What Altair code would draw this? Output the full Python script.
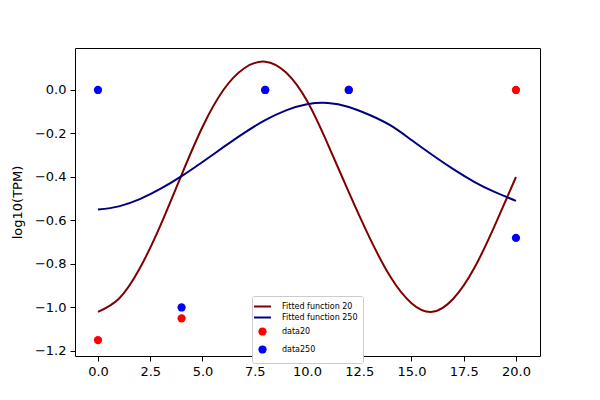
import altair as alt
import pandas as pd

# fitted curves at every integer x
FIT_X = list(range(21))
FIT20_Y = [-1.02, -0.96, -0.82, -0.62, -0.39, -0.17, 0.0, 0.10, 0.13, 0.08, -0.05,
           -0.25, -0.47, -0.68, -0.86, -0.98, -1.02, -0.96, -0.82, -0.62, -0.40]
FIT250_Y = [-0.55, -0.535, -0.502, -0.454, -0.396, -0.331, -0.263, -0.197, -0.139, -0.094, -0.066,
            -0.060, -0.078, -0.115, -0.163, -0.230, -0.299, -0.364, -0.422, -0.470, -0.510]

# measured points
DATA_X = [0, 4, 8, 12, 20]
DATA20_Y = [-1.15, -1.05, 0.0, 0.0, 0.0]
DATA250_Y = [0.0, -1.0, 0.0, 0.0, -0.68]

SERIES = ["Fitted function 20", "Fitted function 250", "data20", "data250"]
COLORS = ["#800000", "#000080", "#ff0000", "#0000ff"]
STROKES = ["#800000", "#000080", "transparent", "transparent"]
LINE_PATH = "M-2.05,0L2.05,0"
SHAPES = [LINE_PATH, LINE_PATH, "circle", "circle"]

X_TICKS = [0, 2.5, 5, 7.5, 10, 12.5, 15, 17.5, 20]
Y_TICKS = [-1.2, -1.0, -0.8, -0.6, -0.4, -0.2, 0.0]

FONT = "DejaVu Sans"

fits = pd.concat([
    pd.DataFrame({"x": FIT_X, "y": FIT20_Y, "series": SERIES[0]}),
    pd.DataFrame({"x": FIT_X, "y": FIT250_Y, "series": SERIES[1]}),
])
points = pd.concat([
    pd.DataFrame({"x": DATA_X, "y": DATA20_Y, "series": SERIES[2]}),
    pd.DataFrame({"x": DATA_X, "y": DATA250_Y, "series": SERIES[3]}),
])

x_enc = alt.X(
    "x:Q",
    title=None,
    scale=alt.Scale(domain=[-1.1, 21.15], nice=False, zero=False),
    axis=alt.Axis(values=X_TICKS, format=".1f"),
)
y_enc = alt.Y(
    "y:Q",
    title="log10(TPM)",
    scale=alt.Scale(domain=[-1.223, 0.193], nice=False, zero=False),
    axis=alt.Axis(values=Y_TICKS, format=".1f"),
)

legend = alt.Legend(
    title=None,
    orient="none",
    legendX=177,
    legendY=248,
    labelFontSize=8,
    labelFont=FONT,
    labelColor="#000000",
    labelOffset=14,
    symbolSize=68,
    symbolStrokeWidth=2,
    rowPadding=1,
    padding=5,
    fillColor="#ffffff",
    strokeColor="#cccccc",
    cornerRadius=2,
)

lines = (
    alt.Chart(fits)
    .mark_line(strokeWidth=2, interpolate="natural")
    .encode(
        x=x_enc,
        y=y_enc,
        stroke=alt.Stroke("series:N", scale=alt.Scale(domain=SERIES, range=STROKES), legend=legend),
        detail="series:N",
    )
)

dots = (
    alt.Chart(points)
    .mark_point(filled=True, opacity=1, size=68)
    .encode(
        x=x_enc,
        y=y_enc,
        fill=alt.Fill("series:N", scale=alt.Scale(domain=SERIES, range=COLORS), legend=legend),
        shape=alt.Shape("series:N", scale=alt.Scale(domain=SERIES, range=SHAPES), legend=legend),
    )
)

chart = (
    alt.layer(lines, dots)
    .properties(
        width=465,
        height=308,
        autosize=alt.AutoSizeParams(type="none"),
        padding={"left": 67, "top": 40, "right": 52, "bottom": 36},
    )
    .configure_axis(
        grid=False,
        domain=False,
        tickColor="#000000",
        tickSize=5,
        tickWidth=1,
        labelColor="#000000",
        labelFont=FONT,
        labelFontSize=13,
        labelPadding=4,
        titleFont=FONT,
        titleFontSize=13,
        titleFontWeight="normal",
        titleColor="#000000",
    )
    .configure_axisY(titlePadding=10)
    .configure_view(stroke="#000000", strokeWidth=1)
)

chart.save("out.html", embed_options={"renderer": "svg", "actions": False})
